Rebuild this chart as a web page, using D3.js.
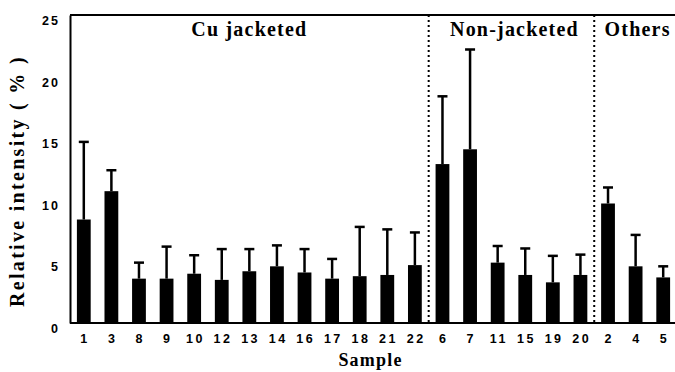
<!DOCTYPE html>
<meta charset="utf-8">
<script src="https://d3js.org/d3.v7.min.js"></script>
<style>
  body { margin: 0; background: #fff; }
  .tick text { font-family: "Liberation Sans", Arial, sans-serif; font-weight: bold; }
</style>
<div id="my_dataviz"></div>
<script>
// samples in plotting order
const samples = ["1","3","8","9","10","12","13","14","16","17","18","21","22","6","7","11","15","19","20","2","4","5"];
// mean relative intensity (%)
const means = [8.4, 10.7, 3.6, 3.6, 4.0, 3.5, 4.2, 4.6, 4.1, 3.6, 3.8, 3.9, 4.7, 12.9, 14.1, 4.9, 3.9, 3.3, 3.9, 9.7, 4.6, 3.7];
// upper error (%)
const errors = [6.3, 1.7, 1.3, 2.6, 1.5, 2.5, 1.8, 1.7, 1.9, 1.6, 4.0, 3.7, 2.65, 5.5, 8.1, 1.35, 2.15, 2.15, 1.65, 1.3, 2.55, 0.9];
const groupNames = ["Cu jacketed", "Non-jacketed", "Others"];
const groupSizes = [13, 6, 3];
const yTicks = [0, 5, 10, 15, 20, 25];

const W = 675, H = 372;
const mLeft = 70, mRight = 677, mTop = 15, mBottom = 323;

const svg = d3.select("#my_dataviz").append("svg")
    .attr("width", W).attr("height", H);

const x = d3.scaleBand().domain(samples).range([mLeft, mRight])
    .paddingInner(0.5).paddingOuter(0.25);
const y = d3.scaleLinear().domain([0, 25]).range([mBottom, mTop]);

const data = samples.map((s, i) => ({ s: s, v: means[i], e: errors[i] }));

// error bars (upper only)
svg.append("g").selectAll("line").data(data).enter().append("line")
    .attr("x1", d => x(d.s) + x.bandwidth() / 2)
    .attr("x2", d => x(d.s) + x.bandwidth() / 2)
    .attr("y1", d => y(d.v))
    .attr("y2", d => y(d.v + d.e))
    .attr("stroke", "#000").attr("stroke-width", 2.5);
svg.append("g").selectAll("line").data(data).enter().append("line")
    .attr("x1", d => x(d.s) + x.bandwidth() / 2 - 5)
    .attr("x2", d => x(d.s) + x.bandwidth() / 2 + 5)
    .attr("y1", d => y(d.v + d.e))
    .attr("y2", d => y(d.v + d.e))
    .attr("stroke", "#000").attr("stroke-width", 2.5);

// bars
svg.append("g").selectAll("rect").data(data).enter().append("rect")
    .attr("x", d => x(d.s))
    .attr("y", d => y(d.v))
    .attr("width", x.bandwidth())
    .attr("height", d => y(0) - y(d.v))
    .attr("fill", "#000");

// frame: top line, left axis, bottom axis
svg.append("line").attr("x1", mLeft).attr("x2", W + 5).attr("y1", mTop).attr("y2", mTop)
    .attr("stroke", "#000").attr("stroke-width", 2);

const yAxis = svg.append("g").attr("transform", "translate(" + mLeft + ",0)")
    .call(d3.axisLeft(y).tickValues(yTicks).tickSize(0).tickPadding(10));
yAxis.select(".domain").attr("stroke-width", 2);
yAxis.selectAll("text").attr("font-size", 12.5).attr("letter-spacing", 2).attr("dy", "0.76em");

const xAxis = svg.append("g").attr("transform", "translate(0," + mBottom + ")")
    .call(d3.axisBottom(x).tickSize(0).tickPadding(11).tickSizeOuter(0));
xAxis.select(".domain").attr("stroke-width", 2).attr("d", "M" + mLeft + ",0H" + (W + 5));
xAxis.selectAll("text").attr("font-size", 12.5).attr("letter-spacing", 2.5).attr("dx", "1.25");

// group separators and labels
let start = 0;
const bounds = [mLeft];
groupSizes.forEach((n, gi) => {
    const last = samples[start + n - 1];
    const sep = x(last) + x.bandwidth() / 2 + x.step() / 2;
    bounds.push(sep);
    if (gi < groupSizes.length - 1) {
        svg.append("line").attr("x1", sep).attr("x2", sep)
            .attr("y1", mTop).attr("y2", mBottom)
            .attr("stroke", "#000").attr("stroke-width", 2)
            .attr("stroke-dasharray", "2,3");
    }
    start += n;
});
groupNames.forEach((g, i) => {
    svg.append("text")
        .attr("x", (bounds[i] + Math.min(bounds[i + 1], W)) / 2 + (i > 0 ? 3 : 0))
        .attr("y", 36)
        .attr("text-anchor", "middle")
        .attr("font-family", "Liberation Serif, Times New Roman, serif")
        .attr("font-weight", "bold")
        .attr("font-size", 20)
        .attr("letter-spacing", 1.2)
        .text(g);
});

// axis titles
svg.append("text")
    .attr("x", (mLeft + mRight) / 2 - 3).attr("y", 366)
    .attr("text-anchor", "middle")
    .attr("font-family", "Liberation Serif, Times New Roman, serif")
    .attr("font-weight", "bold").attr("font-size", 18).attr("letter-spacing", 1.2)
    .text("Sample");

svg.append("text")
    .attr("transform", "translate(24," + 181 + ") rotate(-90)")
    .attr("text-anchor", "middle")
    .attr("font-family", "Liberation Serif, Times New Roman, serif")
    .attr("font-weight", "bold").attr("font-size", 20).attr("letter-spacing", 2.3)
    .text("Relative intensity ( % )");
</script>
